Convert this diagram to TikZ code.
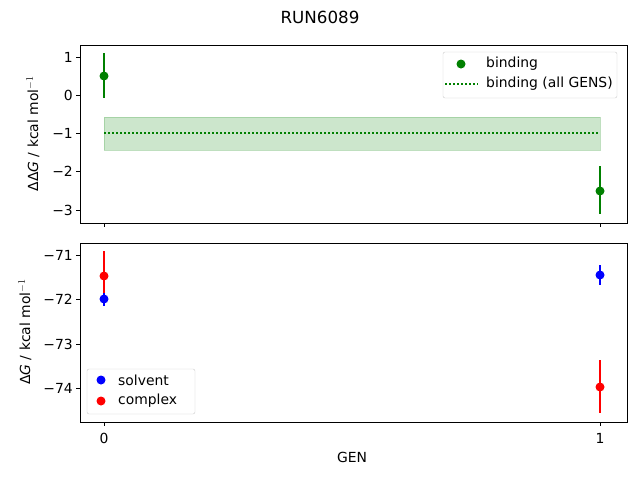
\documentclass[tikz,border=0pt]{standalone}
\usepackage{fontspec}
\setmainfont{DejaVu Sans}
\definecolor{mgreen}{RGB}{0,128,0}
\begin{document}
\begin{tikzpicture}[x=1pt,y=-1pt,
  lab/.style={font=\fontsize{13.9}{16}\selectfont,inner sep=0pt},
  ylab/.style={lab,anchor=east},
  ax/.style={line width=0.8pt},
  tk/.style={line width=0.8pt},
  eb/.style={line width=1.5pt},
  dot/.style={circle,inner sep=0pt,minimum size=9pt}]
\useasboundingbox (0,0) rectangle (640,480);
\node[lab,font=\fontsize{16.7}{19}\selectfont] (title) at (320,17) {RUN6089};
% top axes
\fill[mgreen,opacity=0.2] (104,117) rectangle (600,150);
\draw[mgreen!50,opacity=0.5,line width=1pt] (104,117) rectangle (600,150);
\draw[mgreen,line width=1.5pt,dash pattern=on 1.5pt off 2.5pt] (104,133) -- (600,133);
\draw[mgreen,eb] (104,53) -- (104,98);
\node[dot,fill=mgreen] (b0) at (104,76) {};
\draw[mgreen,eb] (600,166) -- (600,214);
\node[dot,fill=mgreen] (b1) at (600,191) {};
\draw[ax] (80,45) rectangle (627,223);
\foreach \y/\t in {57/1,95/0,133/−1,171/−2,210/−3}{
  \draw[tk] (80,\y) -- (76,\y);
  \node[ylab] at (73,\y) {\t};}
\foreach \x in {104,600}{\draw[tk] (\x,223) -- (\x,227);}
\node[lab,rotate=90] (yl1) at (33,134) {Δ\kern0.5pt Δ\textit{G} / kcal mol$^{-1}$};
% top legend
\draw[black!20,fill=white,rounded corners=2pt] (443,52) rectangle (617,98);
\node[dot,fill=mgreen] (lb) at (461,64) {};
\node[lab,anchor=west] at (486,64) {binding};
\draw[mgreen,line width=1.5pt,dash pattern=on 1.5pt off 2.5pt] (445,84) -- (478,84);
\node[lab,anchor=west] at (486,84) {binding (all GENS)};
% bottom axes
\draw[red,eb] (104,251) -- (104,300);
\draw[blue,eb] (104,293) -- (104,306);
\node[dot,fill=blue] (s0) at (104,299) {};
\node[dot,fill=red] (c0) at (104,276) {};
\draw[blue,eb] (600,265) -- (600,285);
\node[dot,fill=blue] (s1) at (600,275) {};
\draw[red,eb] (600,360) -- (600,413);
\node[dot,fill=red] (c1) at (600,387) {};
\draw[ax] (80,243) rectangle (627,422);
\foreach \y/\t in {255/−71,299/−72,344/−73,388/−74}{
  \draw[tk] (80,\y) -- (76,\y);
  \node[ylab] at (73,\y) {\t};}
\foreach \x/\t in {104/0,600/1}{\draw[tk] (\x,422) -- (\x,426);
  \node[lab] at (\x,438) {\t};}
\node[lab] (xl) at (352,457) {GEN};
\node[lab,rotate=90] (yl2) at (25,332) {Δ\textit{G} / kcal mol$^{-1}$};
% bottom legend
\draw[black!20,fill=white,rounded corners=2pt] (87,369) rectangle (195,414);
\node[dot,fill=blue] (ls) at (101,380) {};
\node[lab,anchor=west] at (118,380) {solvent};
\node[dot,fill=red] (lc) at (101,401) {};
\node[lab,anchor=west] at (118,401) {complex};
\end{tikzpicture}
\end{document}
